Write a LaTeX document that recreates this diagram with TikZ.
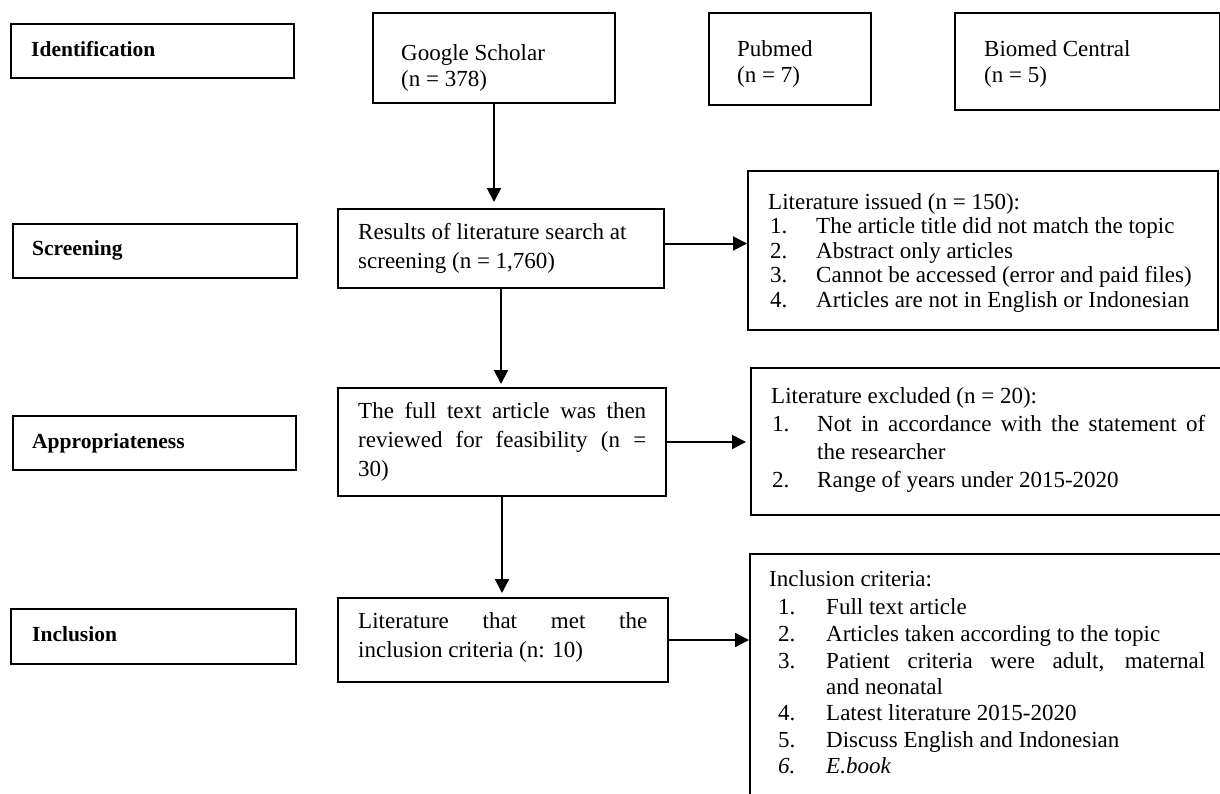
\documentclass[tikz,border=0pt]{standalone}
\usepackage{fontspec}
\setmainfont{Liberation Serif}
\usetikzlibrary{arrows.meta}
\newcommand\myreg{\fontsize{23}{27}\selectfont}
\newcommand\mylbl{\fontsize{21.5}{25}\selectfont\bfseries}
\begin{document}
\begin{tikzpicture}[x=1pt,y=-1pt,
  box/.style={draw=black,line width=2pt,inner sep=0pt,anchor=north west},
  txt/.style={inner sep=0pt,anchor=base west,font=\myreg},
  lbl/.style={inner sep=0pt,anchor=base west,font=\mylbl},
  arr/.style={line width=2pt,-{Triangle[width=14pt,length=14pt]}}]
\useasboundingbox (0,0) rectangle (1220,793);
\clip (0,0) rectangle (1220,793);
% left labels
\node[box,minimum width=283pt,minimum height=54pt] (idb) at (10,23) {};
\node[lbl] (idt) at (31,56) {Identification};
\node[box,minimum width=284pt,minimum height=54pt] (scb) at (12,223) {};
\node[lbl] (sct) at (32,255) {Screening};
\node[box,minimum width=283pt,minimum height=54pt] (apb) at (12,415) {};
\node[lbl] (apt) at (32,448) {Appropriateness};
\node[box,minimum width=285pt,minimum height=55pt] (inb) at (10,608) {};
\node[lbl] (int) at (32,641) {Inclusion};
% sources
\node[box,minimum width=242pt,minimum height=90pt] (gs) at (372,12) {};
\node[txt] (gs1) at (401,60) {Google Scholar};
\node[txt] (gs2) at (401,86) {(n = 378)};
\node[box,minimum width=162pt,minimum height=92pt] (pm) at (708,12) {};
\node[txt] (pm1) at (737,56) {Pubmed};
\node[txt] (pm2) at (737,82) {(n = 7)};
\node[box,minimum width=265pt,minimum height=97pt] (bc) at (954,12) {};
\node[txt] (bc1) at (984,56) {Biomed Central};
\node[txt] (bc2) at (984,82) {(n = 5)};
% middle column
\node[box,minimum width=326pt,minimum height=79pt] (mid1) at (337,208) {};
\node[txt] (m1a) at (358,239) {Results of literature search at};
\node[txt] (m1b) at (358,268) {screening (n = 1,760)};
\node[box,minimum width=328pt,minimum height=108pt] (mid2) at (337,387) {};
\node[txt] (m2a) at (358,418) {\makebox[288pt][s]{The full text article was then}};
\node[txt] (m2b) at (358,447) {\makebox[288pt][s]{reviewed for feasibility (n =}};
\node[txt] (m2c) at (358,476) {30)};
\node[box,minimum width=330pt,minimum height=84pt] (mid3) at (337,597) {};
\node[txt] (m3a) at (358,628) {\makebox[289pt][s]{Literature that met the}};
\node[txt] (m3b) at (358,657) {inclusion criteria (n: 10)};
% right column
\node[box,minimum width=470pt,minimum height=159pt] (iss) at (747,170) {};
\node[txt] (is0) at (768,209) {Literature issued (n = 150):};
\node[txt] (is1n) at (770,233.6) {1.};
\node[txt] (is1) at (816,233.6) {The article title did not match the topic};
\node[txt] (is2n) at (770,258.2) {2.};
\node[txt] (is2) at (816,258.2) {Abstract only articles};
\node[txt] (is3n) at (770,282.8) {3.};
\node[txt] (is3) at (816,282.8) {Cannot be accessed (error and paid files)};
\node[txt] (is4n) at (770,307.4) {4.};
\node[txt] (is4) at (816,307.4) {Articles are not in English or Indonesian};
\node[box,minimum width=500pt,minimum height=147pt] (exc) at (750,367) {};
\node[txt] (ex0) at (771,403) {Literature excluded (n = 20):};
\node[txt] (ex1n) at (772,431) {1.};
\node[txt] (ex1) at (817,431) {\makebox[388pt][s]{Not in accordance with the statement of}};
\node[txt] (ex1b) at (817,459) {the researcher};
\node[txt] (ex2n) at (772,487) {2.};
\node[txt] (ex2) at (817,487) {Range of years under 2015-2020};
\node[box,minimum width=500pt,minimum height=300pt] (inc) at (749,553) {};
\node[txt] (ic0) at (769,586) {Inclusion criteria:};
\node[txt] (ic1n) at (778,614) {1.};
\node[txt] (ic1) at (826,614) {Full text article};
\node[txt] (ic2n) at (778,641) {2.};
\node[txt] (ic2) at (826,641) {Articles taken according to the topic};
\node[txt] (ic3n) at (778,668) {3.};
\node[txt] (ic3) at (826,668) {\makebox[379pt][s]{Patient criteria were adult, maternal}};
\node[txt] (ic3b) at (826,694) {and neonatal};
\node[txt] (ic4n) at (778,720) {4.};
\node[txt] (ic4) at (826,720) {Latest literature 2015-2020};
\node[txt] (ic5n) at (778,747) {5.};
\node[txt] (ic5) at (826,747) {Discuss English and Indonesian};
\node[txt] (ic6n) at (778,773) {\itshape 6.};
\node[txt] (ic6) at (826,773) {\itshape E.book};
% connectors
\draw[arr,shorten >=6pt] (gs.south) -- (gs.south |- mid1.north);
\draw[arr,shorten >=3pt] (mid1.south) -- (mid1.south |- mid2.north);
\draw[arr,shorten >=4pt] (mid2.south) -- (mid2.south |- mid3.north);
\draw[arr] ([yshift=5pt]mid1.east) -- ([yshift=5pt]mid1.east -| iss.west);
\draw[arr,shorten >=4pt] (mid2.east) -- (mid2.east -| exc.west);
\draw[arr] (mid3.east) -- (mid3.east -| inc.west);
\end{tikzpicture}
\end{document}
